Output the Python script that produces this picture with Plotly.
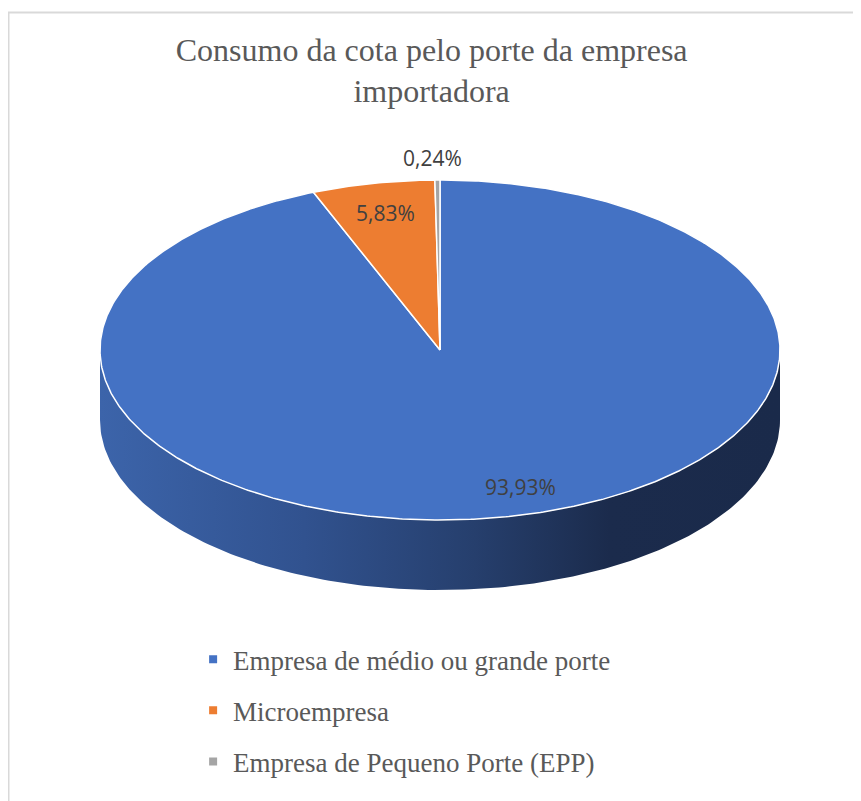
import numpy as np
import plotly.graph_objects as go

# ---- data ----
categories = ["Empresa de médio ou grande porte", "Microempresa", "Empresa de Pequeno Porte (EPP)"]
values = [93.93, 5.83, 0.24]
colors = ["#4472C4", "#ED7D31", "#A5A5A5"]
title_text = "Consumo da cota pelo porte da empresa<br>importadora"

# ---- geometry of the 3D pie (pixel-like axis units) ----
W, H = 861, 801
cx, cy = 432, 342
rx, ry = 340, 170
depth = 70


def pt(theta_deg, dy=0.0):
    t = np.radians(theta_deg)
    return cx + rx * np.sin(t), cy - ry * np.cos(t) + dy


fig = go.Figure()

# side (front half of the cylinder wall)
ang = np.linspace(90, 270, 181)
xs_top, ys_top = pt(ang)
xs_bot, ys_bot = pt(ang[::-1], depth)
fig.add_trace(go.Scatter(
    x=np.concatenate([xs_top, xs_bot]), y=np.concatenate([ys_top, ys_bot]),
    fill="toself", mode="lines", line=dict(width=0, color="rgba(0,0,0,0)"),
    fillgradient=dict(type="horizontal",
                      colorscale=[[0, "#3c64aa"], [0.3, "#31528f"], [0.55, "#263f6d"],
                                  [0.75, "#1b2b4c"], [1, "#1a2a4a"]]),
    hoverinfo="skip", showlegend=False))

# top slices
total = sum(values)
start = 0.0
mids = []
for name, v, c in zip(categories, values, colors):
    span = v / total * 360
    a = np.linspace(start, start + span, max(int(span * 2), 3))
    xa, ya = pt(a)
    fig.add_trace(go.Scatter(
        x=np.concatenate([[cx], xa, [cx]]), y=np.concatenate([[cy], ya, [cy]]),
        fill="toself", fillcolor=c, mode="lines",
        line=dict(color="white", width=1.5),
        hoverinfo="skip", showlegend=False))
    mids.append(start + span / 2)
    start += span

# legend entries
for i, (name, c) in enumerate(zip(categories, colors)):
    fig.add_trace(go.Scatter(
        x=[None], y=[None], mode="markers", name=name,
        marker=dict(symbol="square", size=8, color=c),
        legendgroup=f"g{i}", showlegend=True))


# data labels
def fmt(v):
    return f"{v:.2f}".replace(".", ",") + "%"


label_pos = [(cx + 80, cy + 137), None, None]
factors = [None, 0.82, 1.13]
for v, m, p, f in zip(values, mids, label_pos, factors):
    if p is None:
        lx = cx + rx * f * np.sin(np.radians(m)) - (5 if f > 1 else 0)
        ly = cy - ry * f * np.cos(np.radians(m))
    else:
        lx, ly = p
    fig.add_annotation(x=lx, y=ly, text=fmt(v), showarrow=False,
                       font=dict(family="Open Sans, Liberation Sans, sans-serif", size=21, color="#404040"),
                       xanchor="center", yanchor="middle")

# chart border (Excel chart area)
fig.add_shape(type="rect", x0=0.5, y0=4.5, x1=W + 20, y1=H + 20,
              line=dict(color="#D9D9D9", width=2), layer="above")

fig.update_layout(
    width=W, height=H,
    margin=dict(l=0, r=0, t=0, b=0),
    paper_bgcolor="white", plot_bgcolor="white",
    title=dict(text=title_text, x=0.492, xanchor="center", y=0.934, yanchor="top",
               font=dict(family="Liberation Serif, Times New Roman, serif", size=32, color="#595959")),
    xaxis=dict(range=[0, W], visible=False, fixedrange=True),
    yaxis=dict(range=[H, 0], visible=False, fixedrange=True),
    showlegend=True,
    legend=dict(x=0.215, y=0.217, xanchor="left", yanchor="top",
                font=dict(family="Liberation Serif, Times New Roman, serif", size=27, color="#595959"),
                tracegroupgap=13, itemwidth=30, bgcolor="rgba(0,0,0,0)"),
)

fig.write_html("out.html")
